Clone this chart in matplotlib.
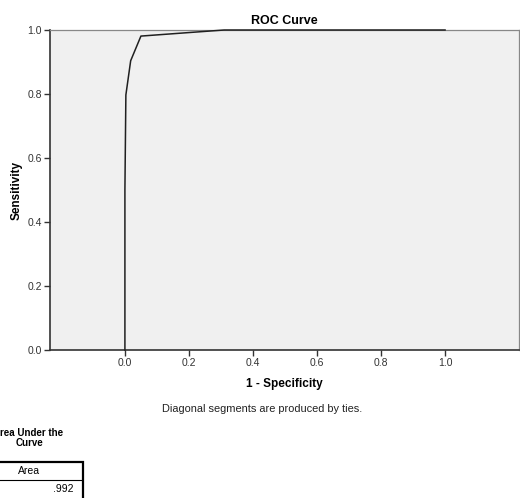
import matplotlib
matplotlib.use("Agg")
import matplotlib.pyplot as plt
from matplotlib.lines import Line2D
from matplotlib.patches import Rectangle

plt.rcParams['font.family'] = ['Liberation Sans', 'DejaVu Sans']

# ROC points
fpr = [0.0, 0.0, 0.003, 0.018, 0.05, 0.2, 0.31, 1.0]
tpr = [0.0, 0.5, 0.797, 0.904, 0.981, 0.992, 1.0, 1.0]
x_ticks = [0.0, 0.2, 0.4, 0.6, 0.8, 1.0]
y_ticks = [0.0, 0.2, 0.4, 0.6, 0.8, 1.0]
auc_value = ".992"

W, H = 520, 498
fig = plt.figure(figsize=(W / 100, H / 100), dpi=100)
ax = fig.add_axes([50 / W, 1 - 350 / H, 469 / W, 320 / H])
ax.set_facecolor('#f0f0f0')

ax.plot(fpr, tpr, color='#202020', lw=1.1, clip_on=False, zorder=5)

ax.set_xlim(-0.234, 1.231)
ax.set_ylim(0, 1)
ax.set_xticks(x_ticks)
ax.set_yticks(y_ticks)
ax.set_xticklabels([f"{t:.1f}" for t in x_ticks])
ax.set_yticklabels([f"{t:.1f}" for t in y_ticks])
ax.tick_params(direction='out', length=4, width=1, labelsize=7.5,
               colors='#333333', pad=2)

for side in ['left', 'bottom']:
    ax.spines[side].set_color('#333333')
    ax.spines[side].set_linewidth(1.2)
for side in ['top', 'right']:
    ax.spines[side].set_color('#888888')
    ax.spines[side].set_linewidth(0.9)

ax.set_title("ROC Curve", fontsize=9, fontweight='bold', pad=4)
ax.set_xlabel("1 - Specificity", fontsize=8.5, fontweight='bold', labelpad=7)
ax.set_ylabel("Sensitivity", fontsize=8.5, fontweight='bold', labelpad=3)

fig.text(262 / W, 1 - 409 / H, "Diagonal segments are produced by ties.",
         fontsize=7.9, ha='center', va='center', color='#222222')

# Area under the curve table
fig.text(28 / W, 1 - 433 / H, "Area Under the", fontsize=7,
         fontweight='bold', ha='center', va='center')
fig.text(30 / W, 1 - 443 / H, "Curve", fontsize=7,
         fontweight='bold', ha='center', va='center')
fig.add_artist(Rectangle((-0.01, 1 - 500 / H), 88 / W, 38 / H,
                         transform=fig.transFigure, fill=False,
                         edgecolor='black', lw=1.6))
fig.add_artist(Line2D([-0.01, 82 / W], [1 - 480 / H, 1 - 480 / H],
                      transform=fig.transFigure, color='black', lw=0.8))
fig.text(29 / W, 1 - 471 / H, "Area", fontsize=7.5, ha='center', va='center')
fig.text(73 / W, 1 - 489 / H, auc_value, fontsize=7.5, ha='right', va='center')

fig.savefig("out.png", dpi=100)
